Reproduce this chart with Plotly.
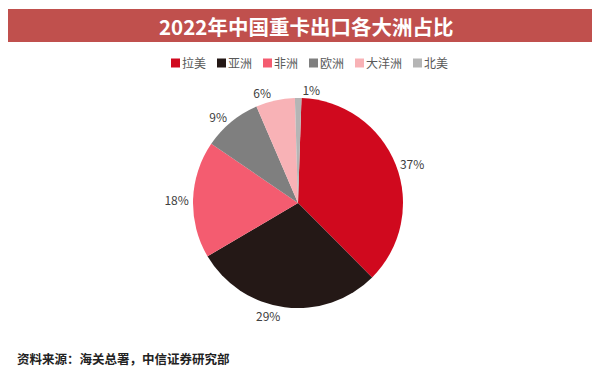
import plotly.graph_objects as go

regions = ["拉美", "亚洲", "非洲", "欧洲", "大洋洲", "北美"]
shares = [37, 29, 18, 9, 6, 1]
colors = ["#D0091E", "#241816", "#F45C70", "#7F7F7F", "#F8B2B6", "#B5B5B5"]
title_text = "2022年中国重卡出口各大洲占比"
source_text = "资料来源：海关总署，中信证券研究部"

W, H = 600, 368
font = "Noto Sans CJK SC"

# pie placement (pixels)
cx, cy, R = 290, 195, 105

fig = go.Figure(go.Pie(
    labels=regions,
    values=shares,
    marker=dict(colors=colors, line=dict(width=0)),
    sort=False,
    direction="clockwise",
    rotation=1.9,
    texttemplate="%{value}%",
    textposition="outside",
    outsidetextfont=dict(size=12, color="#404040", family=font),
    domain=dict(x=[(cx - R) / W, (cx + R) / W], y=[1 - (cy + R) / H, 1 - (cy - R) / H]),
    hoverinfo="label+percent",
    showlegend=False,
))

shapes = [dict(
    type="rect", xref="paper", yref="paper",
    x0=0, x1=595 / W, y0=1 - 34 / H, y1=1 - 1 / H,
    fillcolor="#C0504D", line=dict(width=0), layer="below",
)]
annotations = [
    dict(
        text="<b>" + title_text + "</b>",
        xref="paper", yref="paper", x=298 / W, y=1 - 18 / H,
        xanchor="center", yanchor="middle", showarrow=False,
        font=dict(size=20.5, color="white", family=font),
    ),
    dict(
        text="<b>" + source_text + "</b>",
        xref="paper", yref="paper", x=7 / W, y=1 - 350 / H,
        xanchor="left", yanchor="middle", showarrow=False,
        font=dict(size=12.5, color="#222222", family=font),
    ),
]

# custom compact legend
lx, ly = 163, 55
for name, col in zip(regions, colors):
    shapes.append(dict(
        type="rect", xref="paper", yref="paper",
        x0=lx / W, x1=(lx + 9) / W, y0=1 - (ly + 4.5) / H, y1=1 - (ly - 4.5) / H,
        fillcolor=col, line=dict(width=0),
    ))
    annotations.append(dict(
        text=name, xref="paper", yref="paper", x=(lx + 9) / W, y=1 - ly / H,
        xanchor="left", yanchor="middle", showarrow=False,
        font=dict(size=12, color="#595959", family=font),
    ))
    lx += 9 + 12 * len(name) + 13

fig.update_layout(
    width=W, height=H,
    margin=dict(l=0, r=0, t=0, b=0),
    paper_bgcolor="white",
    plot_bgcolor="white",
    font=dict(family=font, color="#404040"),
    shapes=shapes,
    annotations=annotations,
)

fig.write_html("out.html")
